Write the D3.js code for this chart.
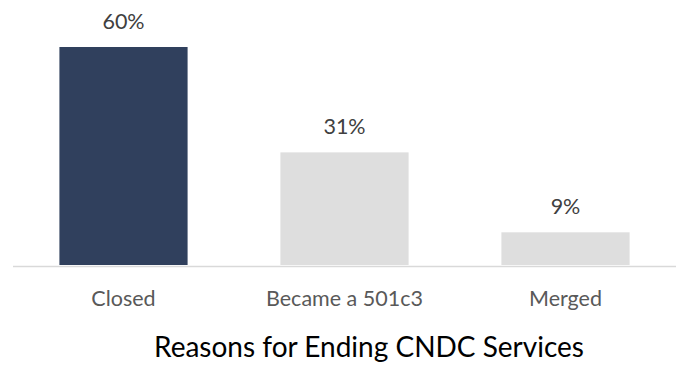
<!DOCTYPE html>
<head>
  <meta charset="utf-8">
  <style>
    body { margin: 0; background: #fff; }
    .tick-label { fill: #595959; font-family: Lato, sans-serif; font-size: 21.5px; }
    .value-label { fill: #404040; font-family: Lato, sans-serif; font-size: 21.5px; }
    .title { fill: #000; font-family: Lato, sans-serif; font-size: 28px; }
  </style>
</head>
<body>
  <script src="https://cdn.jsdelivr.net/npm/d3@7"></script>
  <script>
    // data
    const categories = ["Closed", "Became a 501c3", "Merged"];
    const values = [60, 31, 9];
    const colors = ["#30405d", "#dedede", "#dedede"];
    const titleText = "Reasons for Ending CNDC Services";

    const width = 680;
    const height = 366;
    const baseline = 265;

    const svg = d3.select("body").append("svg")
      .attr("width", width)
      .attr("height", height);

    const x = d3.scaleBand()
      .domain(categories)
      .range([13, 676])
      .paddingInner(0.42)
      .paddingOuter(0.21);

    const y = d3.scaleLinear()
      .domain([0, 60])
      .range([baseline, 47]);

    // bars
    svg.selectAll("rect.bar")
      .data(values).enter().append("rect")
      .attr("class", "bar")
      .attr("x", (d, i) => x(categories[i]))
      .attr("width", x.bandwidth())
      .attr("y", d => y(d))
      .attr("height", d => baseline - y(d))
      .attr("fill", (d, i) => colors[i]);

    // baseline axis line
    svg.append("line")
      .attr("x1", 13).attr("x2", 676)
      .attr("y1", baseline + 1.5).attr("y2", baseline + 1.5)
      .attr("stroke", "#d9d9d9")
      .attr("stroke-width", 1.5);

    // value labels
    svg.selectAll("text.value-label")
      .data(values).enter().append("text")
      .attr("class", "value-label")
      .attr("x", (d, i) => x(categories[i]) + x.bandwidth() / 2)
      .attr("y", d => y(d) - 18.5)
      .attr("text-anchor", "middle")
      .text(d => d + "%");

    // category labels
    svg.selectAll("text.tick-label")
      .data(categories).enter().append("text")
      .attr("class", "tick-label")
      .attr("x", d => x(d) + x.bandwidth() / 2)
      .attr("y", 306)
      .attr("text-anchor", "middle")
      .text(d => d);

    // title
    svg.append("text")
      .attr("class", "title")
      .attr("x", 369)
      .attr("y", 357)
      .attr("text-anchor", "middle")
      .text(titleText);
  </script>
</body>
